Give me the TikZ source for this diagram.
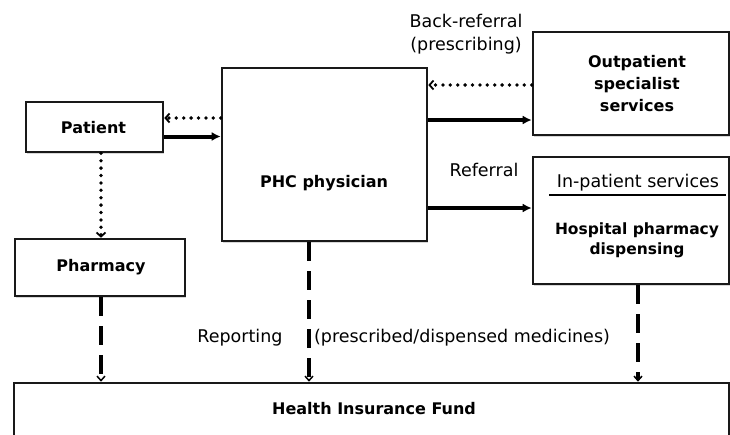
\documentclass[tikz,border=0pt]{standalone}
\usepackage{fontspec}
\setmainfont{DejaVu Sans}
\usetikzlibrary{arrows.meta,shadows}
\begin{document}
\begin{tikzpicture}[x=1pt,y=-1pt,
  box/.style={draw=black!90,line width=2.6pt,fill=white,inner sep=0pt,
    drop shadow={shadow xshift=1pt,shadow yshift=-1.5pt,fill=black!30,opacity=.5}},
  btxt/.style={font=\fontsize{16}{22}\selectfont\bfseries,align=center,inner sep=0pt},
  ntxt/.style={font=\fontsize{17.5}{23.5}\selectfont,align=center,inner sep=0pt},
  solidarrow/.style={line width=4pt,-{Latex[length=9pt,width=9pt]}},
  dotarrow/.style={line width=3.8pt,line cap=round,dash pattern=on 0pt off 7.4pt,
    -{Straight Barb[length=4pt,width=9pt,line width=1.8pt]}},
  dasharrow/.style={line width=4.5pt,dash pattern=on 19pt off 10pt,
    -{Straight Barb[length=4.5pt,width=8pt,line width=1.5pt]}}]
\useasboundingbox (0,0) rectangle (730,434);
% boxes
\node[box,minimum width=715pt,minimum height=80pt] (hif) at (371.5,423) {};
\node[box,minimum width=137pt,minimum height=50pt] (patient) at (94.5,127) {};
\node[box,minimum width=205pt,minimum height=173pt] (phc) at (324.5,154.5) {};
\node[box,minimum width=196pt,minimum height=103pt] (out) at (631,83.5) {};
\node[box,minimum width=196pt,minimum height=127pt] (inp) at (631,220.5) {};
\node[box,minimum width=170pt,minimum height=57pt] (pharm) at (100,267.5) {};
% texts
\node[btxt] (patientt) at (93.5,128) {Patient};
\node[btxt] (phct) at (324,183) {PHC physician};
\node[btxt] (outt) at (637,84) {Outpatient\\specialist\\services};
\node[ntxt] (inpt) at (638,183) {In-patient services};
\node[btxt,font=\fontsize{15.5}{20}\selectfont\bfseries] (hospt) at (637,240) {Hospital pharmacy\\dispensing};
\node[btxt] (pharmt) at (101,267) {Pharmacy};
\node[btxt] (hift) at (374,409) {Health Insurance Fund};
\node[ntxt] (backt) at (466,34) {Back-referral\\(prescribing)};
\node[ntxt] (reft) at (484,170) {Referral};
\node[ntxt] (rept) at (240,338) {Reporting};
\node[ntxt] (medt) at (462,338) {(prescribed/dispensed medicines)};
\draw[line width=1.2pt] (549,195) -- (726,195);
% connectors
\draw[dotarrow] ([yshift=9pt]patient.east -| phc.west) -- ([yshift=9pt]patient.east);
\draw[solidarrow] ([yshift=-9.5pt]patient.east) -- ([yshift=-9.5pt]patient.east -| phc.west);
\draw[dotarrow] ([yshift=-1.5pt]out.west) -- ([yshift=-1.5pt]out.west -| phc.east);
\draw[solidarrow] ([yshift=-36.5pt]out.west -| phc.east) -- ([yshift=-36.5pt]out.west);
\draw[solidarrow] ([yshift=12.5pt]inp.west -| phc.east) -- ([yshift=12.5pt]inp.west);
\draw[dotarrow] ([xshift=1pt]pharm.north |- patient.south) -- ([xshift=1pt]pharm.north);
\draw[dasharrow] ([xshift=1pt]pharm.south) -- ([xshift=1pt]pharm.south |- hif.north);
\draw[dasharrow] ([xshift=-15.5pt]phc.south) -- ([xshift=-15.5pt]phc.south |- hif.north);
\draw[dasharrow] ([xshift=7pt]inp.south) -- ([xshift=7pt]inp.south |- hif.north);
\end{tikzpicture}
\end{document}
